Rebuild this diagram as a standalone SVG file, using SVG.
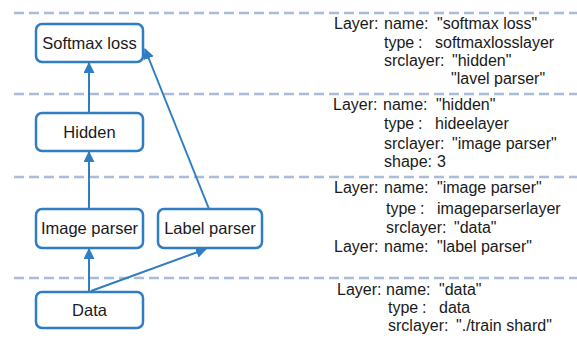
<svg xmlns="http://www.w3.org/2000/svg" width="577" height="338" viewBox="0 0 577 338">
  <defs>
    <style>
      .sep { stroke: #a9bdd8; stroke-width: 2.5; stroke-dasharray: 10 5; fill: none; }
      .box { fill: #ffffff; stroke: #2f7dc2; stroke-width: 2.5; }
      .lbl { font-family: "Liberation Sans", Arial, sans-serif; font-size: 16.5px; fill: #1a1a1a; text-anchor: middle; }
      .edge { stroke: #2f7dc2; stroke-width: 2; fill: none; marker-end: url(#head); }
      .cfg { font-family: "Liberation Sans", Arial, sans-serif; font-size: 16px; fill: #1a1a1a; }
    </style>
    <marker id="head" viewBox="0 0 10 10" refX="9" refY="5" markerWidth="5.5" markerHeight="5.5" markerUnits="strokeWidth" orient="auto">
      <path d="M0,0 L10,5 L0,10 z" fill="#2f7dc2"/>
    </marker>
  </defs>

  <rect width="577" height="338" fill="#ffffff"/>

  <!-- layer separators -->
  <g id="separators">
    <line class="sep" x1="14" y1="13" x2="577" y2="13"/>
    <line class="sep" x1="14" y1="94" x2="577" y2="94"/>
    <line class="sep" x1="14" y1="177" x2="577" y2="177"/>
    <line class="sep" x1="14" y1="278" x2="577" y2="278"/>
  </g>

  <!-- connectors -->
  <g id="connectors">
    <line class="edge" x1="89" y1="113" x2="89" y2="63"/>
    <line class="edge" x1="89" y1="209" x2="89" y2="152"/>
    <line class="edge" x1="89" y1="292" x2="89" y2="249"/>
    <line class="edge" x1="91" y1="291" x2="206" y2="249"/>
    <line class="edge" x1="209" y1="209" x2="145" y2="49"/>
  </g>

  <!-- nodes -->
  <g id="softmax-loss">
    <rect class="box" x="36" y="24" width="107" height="38" rx="6"/>
    <text class="lbl" x="89.5" y="49">Softmax loss</text>
  </g>
  <g id="hidden">
    <rect class="box" x="36" y="113" width="107" height="38" rx="6"/>
    <text class="lbl" x="89.5" y="138">Hidden</text>
  </g>
  <g id="image-parser">
    <rect class="box" x="36" y="209" width="107" height="39" rx="6"/>
    <text class="lbl" x="89.5" y="234">Image parser</text>
  </g>
  <g id="label-parser">
    <rect class="box" x="158" y="209" width="104" height="39" rx="6"/>
    <text class="lbl" x="210" y="234">Label parser</text>
  </g>
  <g id="data">
    <rect class="box" x="36" y="292" width="107" height="36" rx="6"/>
    <text class="lbl" x="89.5" y="316">Data</text>
  </g>

  <!-- layer definitions -->
  <g id="cfg-softmax" class="cfg">
    <text x="334" y="29">Layer:</text>
    <text y="29"><tspan x="384">name:</tspan><tspan x="437">"softmax loss"</tspan></text>
    <text y="48"><tspan x="384">type</tspan><tspan x="418">:</tspan><tspan x="435">softmaxlosslayer</tspan></text>
    <text y="66"><tspan x="384">srclayer:</tspan><tspan x="452">"hidden"</tspan></text>
    <text x="451" y="84">"lavel parser"</text>
  </g>
  <g id="cfg-hidden" class="cfg">
    <text x="333" y="110">Layer:</text>
    <text y="110"><tspan x="383">name:</tspan><tspan x="436">"hidden"</tspan></text>
    <text y="129"><tspan x="384">type</tspan><tspan x="418">:</tspan><tspan x="435">hideelayer</tspan></text>
    <text y="149"><tspan x="384">srclayer:</tspan><tspan x="452">"image parser"</tspan></text>
    <text y="167"><tspan x="384">shape:</tspan><tspan x="437">3</tspan></text>
  </g>
  <g id="cfg-parsers" class="cfg">
    <text x="334" y="193">Layer:</text>
    <text y="193"><tspan x="384">name:</tspan><tspan x="437">"image parser"</tspan></text>
    <text y="214"><tspan x="386">type</tspan><tspan x="420">:</tspan><tspan x="437">imageparserlayer</tspan></text>
    <text y="233"><tspan x="386">srclayer:</tspan><tspan x="454">"data"</tspan></text>
    <text x="334" y="252">Layer:</text>
    <text y="252"><tspan x="384">name:</tspan><tspan x="437">"label parser"</tspan></text>
  </g>
  <g id="cfg-data" class="cfg">
    <text x="337" y="295">Layer:</text>
    <text y="295"><tspan x="386">name:</tspan><tspan x="439">"data"</tspan></text>
    <text y="313"><tspan x="388">type</tspan><tspan x="422">:</tspan><tspan x="439">data</tspan></text>
    <text y="331"><tspan x="388">srclayer:</tspan><tspan x="456">"./train shard"</tspan></text>
  </g>
</svg>
